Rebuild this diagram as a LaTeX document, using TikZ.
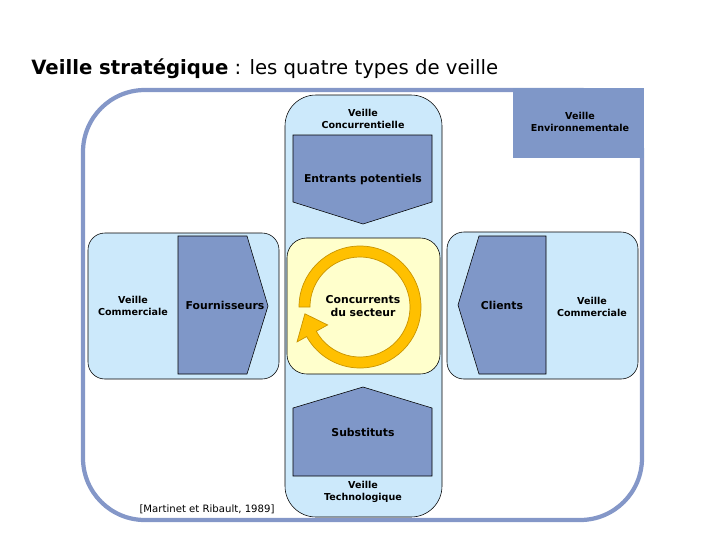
\documentclass[tikz,border=0pt]{standalone}
\usepackage{fontspec}
\setmainfont{DejaVu Sans}
\usetikzlibrary{positioning}
\definecolor{cFrame}   {HTML}{8497C8}
\definecolor{cPanel}   {HTML}{CCE9FB}
\definecolor{cForce}   {HTML}{7F97C8}
\definecolor{cCore}    {HTML}{FFFFCC}
\definecolor{cRing}    {HTML}{FFC000}
\definecolor{cRingEdge}{HTML}{C99400}

\begin{document}
\begin{tikzpicture}[x=0.025cm, y=-0.025cm,
    panel/.style={draw=black, line width=0.4pt, fill=cPanel},
    force/.style={draw=black, line width=0.4pt, fill=cForce},
    lbl/.style={font=\fontsize{6.8}{8}\selectfont\bfseries, align=center, inner sep=0pt},
    biglbl/.style={font=\fontsize{7.7}{9}\selectfont\bfseries, align=center, inner sep=0pt},
  ]
  \useasboundingbox (0,0) rectangle (720,540);

  % titre
  \node[anchor=base west, inner sep=0pt, font=\fontsize{14}{16}\selectfont] (titre) at (31,74)
    {\textbf{Veille stratégique} : les quatre types de veille};

  % cadre general
  \draw[cFrame, line width=3pt, rounded corners=44] (83,90) rectangle (642,520);
  \fill[cForce] (513,88) rectangle (644,158);
  \node[lbl] (venv) at (580,122) {Veille\\Environnementale};

  % colonne centrale
  \draw[panel, rounded corners=22] (285,95) rectangle (442,517);
  \draw[panel, rounded corners=12] (88,233) rectangle (279,379);
  \draw[panel, rounded corners=12] (447,232) rectangle (638,379);
  \draw[draw=black, line width=0.4pt, fill=cCore, rounded corners=14] (287,238) rectangle (440,374);

  % les forces
  \draw[force] (293,135) -- (432,135) -- (432,202) -- (363,224) -- (293,202) -- cycle;
  \draw[force] (293,476) -- (293,408) -- (363,387) -- (432,408) -- (432,476) -- cycle;
  \draw[force] (178,236) -- (247,236) -- (268,306) -- (247,374) -- (178,374) -- cycle;
  \draw[force] (546,236) -- (479,236) -- (458,305) -- (479,374) -- (546,374) -- cycle;

  % fleche circulaire
  \begin{scope}[shift={(360,307)}, yscale=-1]
    \draw[fill=cRing, draw=cRingEdge, line width=0.5pt]
      (180:61) arc[start angle=180, end angle=-151, radius=61]
      -- (-151:72) -- (187:55.5) -- (-151:37) -- (-151:50)
      arc[start angle=-151, end angle=180, radius=50] -- cycle;
  \end{scope}

  \node[lbl] (vconc) at (363,119) {Veille\\Concurrentielle};
  \node[biglbl] (entrants) at (363,180) {Entrants potentiels};
  \node[lbl] (vcomg) at (133,306) {Veille\\Commerciale};
  \node[biglbl] (fourn) at (225,305) {Fournisseurs};
  \node[biglbl] (conc) at (363,306) {Concurrents\\du secteur};
  \node[biglbl] (clients) at (502,305) {Clients};
  \node[lbl] (vcomd) at (592,307) {Veille\\Commerciale};
  \node[biglbl] (subst) at (363,432) {Substituts};
  \node[lbl] (vtech) at (363,492) {Veille\\Technologique};
  \node[font=\fontsize{7.2}{8.4}\selectfont, inner sep=0pt] (source) at (207,509) {[Martinet et Ribault, 1989]};
\end{tikzpicture}
\end{document}
